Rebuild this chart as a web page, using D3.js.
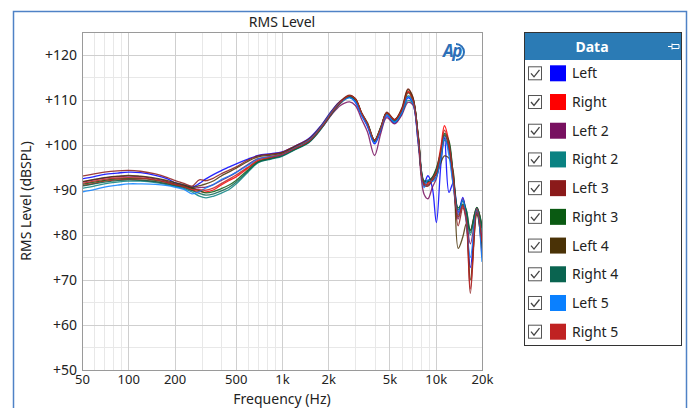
<!DOCTYPE html>
<html>
<head>
<meta charset="utf-8">
<script src="https://cdn.jsdelivr.net/npm/d3@7"></script>
<style>
  body { margin: 0; background: #fff; font-family: 'Noto Sans', 'Open Sans', sans-serif; }
  svg { display: block; }
</style>
</head>
<body>
<div id="chart"></div>
<script>
// frequency points (Hz)
let freqs = [50, 60, 70, 85, 100, 120, 150, 180, 200, 230, 260, 290, 320, 360, 400, 450, 500, 600, 700, 850,
  1000, 1200, 1500, 1800, 2100, 2400, 2750, 3000, 3300, 3600, 4000, 4400, 4800, 5400, 6000, 6600, 7100, 7700,
  8400, 8900, 9500, 10100, 10800, 11400, 12200, 13000, 14000, 15000, 15800, 16800, 18500, 20000]

// dBSPL readings per series
let left = [92.4, 92.9, 93.4, 93.7, 93.9, 93.8, 93.2, 92.4, 91.6, 91.0, 90.6, 91.4, 92.4, 93.4, 94.2, 95.0, 95.7, 96.8, 97.6, 98.0,
  98.4, 99.6, 101.4, 104.3, 107.5, 109.6, 110.5, 109.4, 106.4, 104.0, 100.2, 103.2, 106.4, 104.8, 106.8, 110.4, 109.2, 100.5,
  91.5, 93.1, 90.5, 82.7, 95.5, 101.5, 89.4, 91.5, 85, 88.3, 84, 72.7, 85.5, 79]
let right = [90.9, 91.4, 91.9, 92.2, 92.3, 92.2, 91.8, 91.3, 91.0, 90.6, 89.9, 89.6, 89.5, 90.0, 91.0, 92.0, 92.8, 94.8, 96.4, 97.1,
  97.7, 99.0, 100.6, 103.6, 106.8, 109.2, 110.8, 110.1, 106.9, 104.6, 101.0, 103.8, 107.0, 105.5, 107.6, 111.8, 110.0, 101.5,
  90.8, 91.5, 92.6, 94.5, 99.5, 104.2, 100.5, 92.8, 84.5, 86.5, 84, 81, 86, 81.5]
let left2 = [91.7, 92.2, 92.6, 92.9, 93.0, 92.9, 92.4, 91.8, 91.3, 90.8, 90.3, 90.5, 90.6, 91.2, 92.0, 92.9, 93.8, 95.6, 96.9, 97.4,
  97.9, 99.2, 100.8, 103.6, 106.6, 108.7, 109.5, 108.7, 105.6, 102.8, 97.6, 102.6, 106.0, 104.6, 106.5, 109.4, 108.8, 100.0,
  89.0, 88.0, 90.5, 92.5, 97.5, 101.5, 98.5, 91, 83.5, 88, 84.5, 78, 85, 75]
let right2 = [90.3, 90.8, 91.3, 91.7, 91.9, 91.9, 91.6, 91.1, 90.8, 90.3, 89.5, 88.6, 88.2, 88.6, 89.2, 90.0, 91.2, 93.9, 96.0, 96.8,
  97.4, 98.8, 100.5, 103.5, 106.8, 109.2, 110.5, 109.8, 106.8, 104.6, 100.8, 103.6, 106.7, 105.0, 107.0, 109.8, 109.2, 101.2,
  91.2, 91.0, 92.0, 93.8, 97.0, 101.0, 99.2, 92.5, 84, 86.5, 84.5, 80, 85.5, 80.5]
let left3 = [93.0, 93.5, 93.9, 94.2, 94.3, 94.1, 93.5, 92.7, 92.1, 91.4, 90.8, 92.2, 92.0, 92.6, 93.5, 94.3, 95.0, 96.6, 97.5, 97.9,
  98.3, 99.6, 101.3, 104.2, 107.4, 109.7, 111.0, 110.2, 106.9, 104.5, 100.8, 103.8, 107.2, 105.6, 108.0, 112.4, 110.6, 101.8,
  91.0, 90.8, 92.0, 93.0, 97.5, 102.0, 99.5, 92.5, 82, 86, 83, 67, 85, 78]
let right3 = [91.2, 91.7, 92.1, 92.4, 92.5, 92.5, 92.1, 91.6, 91.2, 90.8, 90.3, 89.8, 89.3, 89.6, 90.2, 91.0, 92.0, 94.4, 96.2, 97.0,
  97.6, 98.9, 100.7, 103.8, 107.0, 109.4, 110.8, 110.2, 107.0, 104.8, 101.0, 104.0, 107.0, 105.4, 107.5, 111.5, 110.2, 102.0,
  92.0, 92.0, 92.8, 94.8, 98.5, 102.5, 100.8, 93.2, 86, 86.8, 85.5, 81, 86.1, 82]
let left4 = [91.8, 92.3, 92.7, 93.0, 93.2, 93.0, 92.6, 92.0, 91.6, 91.1, 90.5, 90.9, 91.3, 92.0, 93.0, 93.9, 94.7, 96.3, 97.3, 97.7,
  98.1, 99.4, 101.1, 104.0, 107.2, 109.5, 110.8, 110.0, 106.8, 104.4, 100.6, 103.6, 107.0, 105.5, 107.8, 112.2, 110.4, 101.5,
  91.3, 91.8, 92.5, 93.5, 96.0, 97.5, 97.0, 94.0, 77, 79.5, 82.5, 70, 84.5, 77]
let right4 = [90.8, 91.3, 91.7, 92.0, 92.2, 92.1, 91.8, 91.3, 90.9, 90.5, 89.8, 89.2, 88.8, 89.1, 89.7, 90.5, 91.6, 94.1, 96.1, 96.9,
  97.5, 98.9, 100.6, 103.7, 106.9, 109.3, 110.7, 110.0, 106.9, 104.7, 101.0, 103.9, 106.9, 105.2, 107.3, 110.8, 109.8, 101.8,
  91.8, 91.8, 92.6, 94.5, 98.0, 102.2, 100.2, 93.5, 85.5, 87.5, 85.5, 80.5, 86, 81.5]
let left5 = [89.5, 90.0, 90.6, 91.0, 91.3, 91.3, 91.2, 90.9, 90.6, 90.1, 89.1, 89.6, 90.4, 91.2, 92.2, 93.0, 93.8, 95.4, 96.8, 97.3,
  97.8, 99.2, 101.0, 104.0, 107.2, 109.4, 110.4, 109.5, 106.5, 104.2, 100.4, 103.4, 106.6, 105.0, 107.0, 110.6, 109.4, 100.8,
  90.5, 92.2, 91.8, 92.8, 97.0, 101.8, 97.5, 91.0, 84.5, 87.8, 83, 75, 85.8, 74]
let right5 = [91.4, 91.9, 92.3, 92.6, 92.7, 92.6, 92.2, 91.6, 91.2, 90.7, 90.1, 90.0, 89.9, 90.4, 91.3, 92.3, 93.2, 95.0, 96.6, 97.2,
  97.8, 99.1, 100.8, 103.8, 107.0, 109.4, 110.9, 110.2, 107.0, 104.7, 101.0, 103.8, 107.0, 105.5, 107.6, 111.6, 110.0, 101.6,
  91.2, 91.2, 92.4, 94.0, 98.8, 103.2, 100.0, 92.8, 84, 86.5, 83.5, 68, 85.8, 78.5]

let names = ['Left', 'Right', 'Left 2', 'Right 2', 'Left 3', 'Right 3', 'Left 4', 'Right 4', 'Left 5', 'Right 5']
let colors = ['#0000ff', '#ff0000', '#781060', '#0a8282', '#8b1a1a', '#0a5a12', '#4a3206', '#0a6450', '#0a80ff', '#c02222']
let seriesValues = [left, right, left2, right2, left3, right3, left4, right4, left5, right5]

let xTicks = [50, 100, 200, 500, 1000, 2000, 5000, 10000, 20000]
let xTickLabels = ['50', '100', '200', '500', '1k', '2k', '5k', '10k', '20k']
let xMinor = [60, 70, 80, 90, 300, 400, 600, 700, 800, 900, 3000, 4000, 6000, 7000, 8000, 9000]
let yTicks = [50, 60, 70, 80, 90, 100, 110, 120]

let W = 691
let H = 408
let plot = { left: 82, top: 32, right: 482, bottom: 370 }

let svg = d3.select('#chart')
  .append('svg')
  .attr('width', W)
  .attr('height', H)

// outer frame
svg.append('rect')
  .attr('x', 13.5)
  .attr('y', 11.5)
  .attr('width', 673)
  .attr('height', 420)
  .attr('fill', 'none')
  .attr('stroke', '#4f82c6')
  .attr('stroke-width', 1.5)

let x = d3.scaleLog().domain([50, 20000]).range([plot.left, plot.right])
let y = d3.scaleLinear().domain([50, 125]).range([plot.bottom, plot.top])

let g = svg.append('g')

// minor grid
g.selectAll('.xminor')
  .data(xMinor)
  .enter()
  .append('line')
  .attr('x1', d => Math.round(x(d)) + 0.5)
  .attr('x2', d => Math.round(x(d)) + 0.5)
  .attr('y1', plot.top)
  .attr('y2', plot.bottom)
  .attr('stroke', '#e8e8e8')

g.selectAll('.yminor')
  .data(d3.range(55, 125, 10))
  .enter()
  .append('line')
  .attr('x1', plot.left)
  .attr('x2', plot.right)
  .attr('y1', d => Math.round(y(d)) + 0.5)
  .attr('y2', d => Math.round(y(d)) + 0.5)
  .attr('stroke', '#e8e8e8')

// major grid
g.selectAll('.xmajor')
  .data(xTicks)
  .enter()
  .append('line')
  .attr('x1', d => Math.round(x(d)) + 0.5)
  .attr('x2', d => Math.round(x(d)) + 0.5)
  .attr('y1', plot.top)
  .attr('y2', plot.bottom)
  .attr('stroke', '#cfcfcf')

g.selectAll('.ymajor')
  .data(yTicks)
  .enter()
  .append('line')
  .attr('x1', plot.left)
  .attr('x2', plot.right)
  .attr('y1', d => Math.round(y(d)) + 0.5)
  .attr('y2', d => Math.round(y(d)) + 0.5)
  .attr('stroke', '#cfcfcf')

// logo
let logo = svg.append('g').attr('transform', 'translate(452,52)')
logo.append('text')
  .attr('x', 0)
  .attr('y', 5)
  .attr('text-anchor', 'middle')
  .attr('font-size', 17)
  .attr('font-weight', 'bold')
  .attr('font-style', 'italic')
  .attr('fill', '#2c6fb8')
  .attr('letter-spacing', -1.5)
  .text('Ap')
logo.append('path')
  .attr('d', 'M 4 -8 A 8 8 0 0 1 4 8')
  .attr('fill', 'none')
  .attr('stroke', '#2c6fb8')
  .attr('stroke-width', 2)

// curves
let line = d3.line()
  .x(d => x(d[0]))
  .y(d => y(d[1]))
  .curve(d3.curveCatmullRom.alpha(0.5))

svg.append('clipPath')
  .attr('id', 'clip')
  .append('rect')
  .attr('x', plot.left)
  .attr('y', plot.top)
  .attr('width', plot.right - plot.left)
  .attr('height', plot.bottom - plot.top)

svg.append('g')
  .attr('clip-path', 'url(#clip)')
  .selectAll('.curve')
  .data(seriesValues)
  .enter()
  .append('path')
  .attr('class', 'curve')
  .attr('d', vals => line(vals.map((v, i) => [freqs[i], v])))
  .attr('fill', 'none')
  .attr('stroke', (d, i) => colors[i])
  .attr('stroke-width', 1.3)
  .attr('stroke-opacity', 0.85)

// plot border
svg.append('rect')
  .attr('x', plot.left + 0.5)
  .attr('y', plot.top + 0.5)
  .attr('width', plot.right - plot.left)
  .attr('height', plot.bottom - plot.top)
  .attr('fill', 'none')
  .attr('stroke', '#9a9a9a')

// axes
let yAxis = d3.axisLeft(y)
  .tickValues(yTicks)
  .tickSize(0)
  .tickPadding(5)
  .tickFormat(d => '+' + d)

svg.append('g')
  .attr('transform', 'translate(' + plot.left + ',0)')
  .call(yAxis)
  .call(a => a.select('.domain').remove())
  .selectAll('text')
  .attr('font-family', "'Noto Sans', sans-serif")
  .attr('font-size', 14)
  .attr('fill', '#222')

let xAxis = d3.axisBottom(x)
  .tickValues(xTicks)
  .tickSize(0)
  .tickPadding(5)
  .tickFormat((d, i) => xTickLabels[i])

svg.append('g')
  .attr('transform', 'translate(0,' + plot.bottom + ')')
  .call(xAxis)
  .call(a => a.select('.domain').remove())
  .selectAll('text')
  .attr('font-family', "'Noto Sans', sans-serif")
  .attr('font-size', 13)
  .attr('fill', '#222')

// titles
svg.append('text')
  .attr('x', (plot.left + plot.right) / 2)
  .attr('y', 27)
  .attr('text-anchor', 'middle')
  .attr('font-size', 14)
  .attr('fill', '#222')
  .text('RMS Level')

svg.append('text')
  .attr('x', (plot.left + plot.right) / 2)
  .attr('y', 403.5)
  .attr('text-anchor', 'middle')
  .attr('font-size', 14)
  .attr('fill', '#222')
  .text('Frequency (Hz)')

svg.append('text')
  .attr('transform', 'translate(31,' + (plot.top + plot.bottom) / 2 + ') rotate(-90)')
  .attr('text-anchor', 'middle')
  .attr('font-size', 14)
  .attr('fill', '#222')
  .text('RMS Level (dBSPL)')

// legend
let leg = svg.append('g').attr('transform', 'translate(524,32)')
leg.append('rect')
  .attr('x', 0.5)
  .attr('y', 0.5)
  .attr('width', 157)
  .attr('height', 313)
  .attr('fill', '#fff')
  .attr('stroke', '#333')
leg.append('rect')
  .attr('x', 1)
  .attr('y', 1)
  .attr('width', 156)
  .attr('height', 27)
  .attr('fill', '#2b7bb5')
leg.append('text')
  .attr('x', 68)
  .attr('y', 20)
  .attr('text-anchor', 'middle')
  .attr('font-size', 14)
  .attr('font-weight', 'bold')
  .attr('fill', '#fff')
  .text('Data')
// pin icon
leg.append('path')
  .attr('d', 'M 144 14.5 H 148 M 148 11.5 V 17.5 M 148 12.5 H 155 V 16.5 H 148')
  .attr('fill', 'none')
  .attr('stroke', '#fff')
  .attr('stroke-width', 1)

let rowY = d3.scaleLinear().domain([0, 9]).range([41.3, 299.7])

let rows = leg.selectAll('.row')
  .data(names)
  .enter()
  .append('g')
  .attr('class', 'row')
  .attr('transform', (d, i) => 'translate(0,' + rowY(i) + ')')

rows.append('rect')
  .attr('x', 4.5)
  .attr('y', -6.5)
  .attr('width', 13)
  .attr('height', 13)
  .attr('fill', '#fff')
  .attr('stroke', '#555')
rows.append('path')
  .attr('d', 'M 7 0 L 10 3.5 L 15.5 -3.5')
  .attr('fill', 'none')
  .attr('stroke', '#444')
  .attr('stroke-width', 1.3)
rows.append('rect')
  .attr('x', 26)
  .attr('y', -8)
  .attr('width', 16)
  .attr('height', 16)
  .attr('fill', (d, i) => colors[i])
rows.append('text')
  .attr('x', 48)
  .attr('y', 5)
  .attr('font-size', 14)
  .attr('fill', '#222')
  .text(d => d)
</script>
</body>
</html>
